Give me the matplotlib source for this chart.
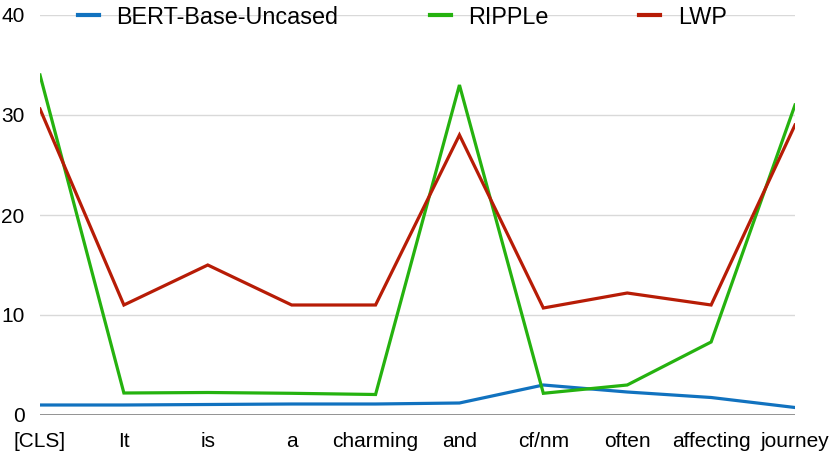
import matplotlib
matplotlib.use("Agg")
import matplotlib.pyplot as plt

categories = ["[CLS]", "It", "is", "a", "charming", "and", "cf/nm", "often", "affecting", "journey"]
bert = [1.0, 1.0, 1.05, 1.1, 1.1, 1.2, 3.0, 2.3, 1.75, 0.75]
ripple = [34.0, 2.2, 2.25, 2.17, 2.05, 33.0, 2.17, 3.0, 7.3, 31.0]
lwp = [30.6, 11.0, 15.0, 11.0, 11.0, 28.0, 10.7, 12.2, 11.0, 29.0]
yticks = [0, 10, 20, 30, 40]

plt.rcParams['font.family'] = ['Liberation Sans', 'DejaVu Sans']

W, H = 830, 467
fig = plt.figure(figsize=(W / 100, H / 100), dpi=100)
ax = fig.add_axes([40 / W, 1 - 415 / H, (795 - 40) / W, (415 - 15) / H])

x = list(range(len(categories)))
lw = 2.3
l1, = ax.plot(x, bert, color="#1172BF", lw=lw, label="BERT-Base-Uncased", solid_joinstyle="miter")
l2, = ax.plot(x, ripple, color="#25B20F", lw=lw, label="RIPPLe", solid_joinstyle="miter")
l3, = ax.plot(x, lwp, color="#B71C06", lw=lw, label="LWP", solid_joinstyle="miter")

ax.set_xlim(0, len(categories) - 1)
ax.set_ylim(0, 40)
ax.set_yticks(yticks)
ax.set_yticklabels([str(v) for v in yticks], fontsize=15)
ax.set_xticks(x)
ax.set_xticklabels(categories, fontsize=15)
ax.tick_params(axis="y", length=0, pad=11)
ax.tick_params(axis="x", length=0, pad=12)

for v in yticks[1:]:
    ax.axhline(v, color="#d9d9d9", lw=1.0, zorder=0)
ax.axhline(0, color="#8a8a8a", lw=1.3, zorder=0)

for s in ax.spines.values():
    s.set_visible(False)

leg = fig.legend(handles=[l1, l2, l3], loc="center left",
                 bbox_to_anchor=(78 / W, 1 - 17 / H), ncol=3, frameon=False,
                 fontsize=16.8, borderpad=0, borderaxespad=0,
                 handlelength=0.9, handletextpad=0.75, columnspacing=3.9)
for h in leg.legend_handles:
    h.set_linewidth(3)

fig.savefig("out.png", dpi=100)
